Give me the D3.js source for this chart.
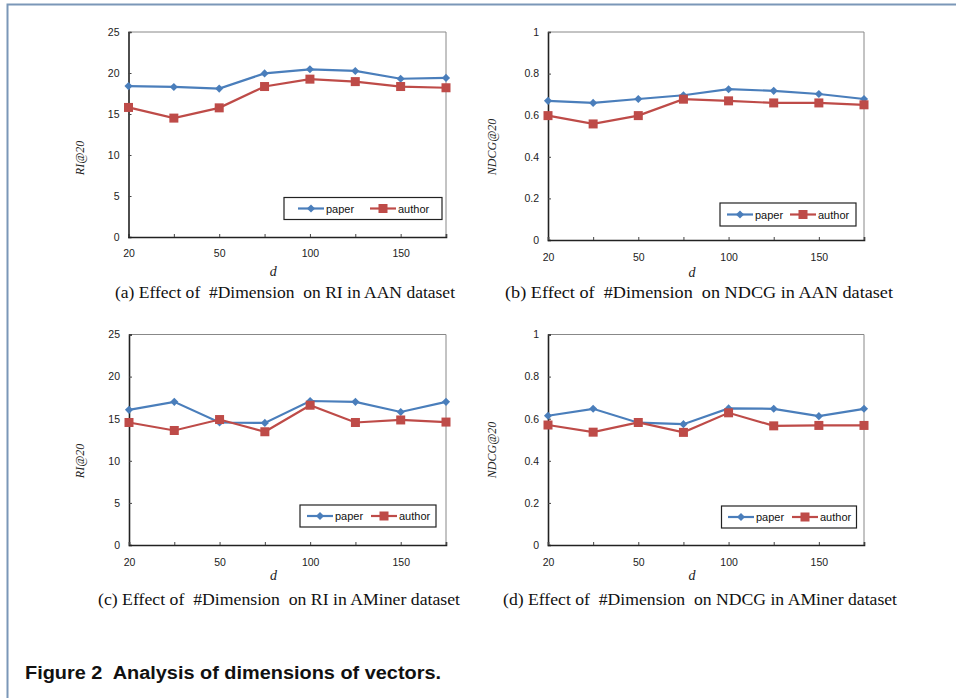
<!DOCTYPE html>
<html><head><meta charset="utf-8">
<script src="https://cdn.jsdelivr.net/npm/d3@7"></script>
<style>body{margin:0;background:#fff;}svg{display:block;}</style>
</head><body>
<svg id="c" width="956" height="698"></svg>
<script>
// ---- data ----
const dims = ["20", "30", "50", "75", "100", "125", "150", "175"];
const seriesNames = ["paper", "author"];

const riAANPaper   = [18.4, 18.3, 18.1, 19.95, 20.45, 20.25, 19.3, 19.4];
const riAANAuthor  = [15.8, 14.5, 15.75, 18.35, 19.25, 18.95, 18.35, 18.2];
const ndcgAANPaper  = [0.669, 0.659, 0.678, 0.696, 0.725, 0.717, 0.702, 0.678];
const ndcgAANAuthor = [0.598, 0.558, 0.598, 0.677, 0.669, 0.659, 0.659, 0.650];
const riAMPaper   = [16.05, 17.0, 14.55, 14.5, 17.1, 17.0, 15.8, 17.0];
const riAMAuthor  = [14.55, 13.6, 14.9, 13.45, 16.6, 14.55, 14.85, 14.6];
const ndcgAMPaper  = [0.614, 0.647, 0.581, 0.574, 0.649, 0.647, 0.612, 0.647];
const ndcgAMAuthor = [0.570, 0.536, 0.582, 0.535, 0.628, 0.566, 0.568, 0.568];

const riTicks = [0, 5, 10, 15, 20, 25];
const ndcgTicks = [0, 0.2, 0.4, 0.6, 0.8, 1];
const captions = [
  "(a) Effect of  #Dimension  on RI in AAN dataset",
  "(b) Effect of  #Dimension  on NDCG in AAN dataset",
  "(c) Effect of  #Dimension  on RI in AMiner dataset",
  "(d) Effect of  #Dimension  on NDCG in AMiner dataset"
];
const yLabels = ["RI@20", "NDCG@20"];
const figureCaption = "Figure 2  Analysis of dimensions of vectors.";

// ---- layout ----
const svg = d3.select("#c");
const colors = ["#4A7EBB", "#BE4B48"];

// outer frame
svg.append("path").attr("d", "M7.5,698 V4.5 H956")
  .attr("fill", "none").attr("stroke", "#7b97b8").attr("stroke-width", 2);

const ndcgFmt = d => d===0||d===1? String(d) : d3.format(".1f")(d);
const panels = [
  {x0:128.5, x1:446, y0:32, y1:237, ticks:riTicks, ymax:25, fmt:d3.format("d"), ylab:yLabels[0],
   data:[riAANPaper, riAANAuthor], cap:captions[0], capX:285, capW:340, capY:298, dY:276, xlY:257, ylX:80, ylY:158,
   leg:{x:284, y:197.5, w:158, h:22, l1:298, l2:370}},
  {x0:548, x1:864, y0:32, y1:240, ticks:ndcgTicks, ymax:1, fmt:ndcgFmt, ylab:yLabels[1],
   data:[ndcgAANPaper, ndcgAANAuthor], cap:captions[1], capX:699, capW:388, capY:298, dY:277, xlY:261, ylX:492, ylY:147,
   leg:{x:720, y:203, w:136, h:23, l1:727, l2:790}},
  {x0:129, x1:446, y0:334.5, y1:545, ticks:riTicks, ymax:25, fmt:d3.format("d"), ylab:yLabels[0],
   data:[riAMPaper, riAMAuthor], cap:captions[2], capX:279, capW:362, capY:605, dY:580, xlY:566, ylX:80, ylY:461,
   leg:{x:300, y:505, w:136, h:22, l1:307, l2:371}},
  {x0:548, x1:864, y0:334.5, y1:545, ticks:ndcgTicks, ymax:1, fmt:ndcgFmt, ylab:yLabels[1],
   data:[ndcgAMPaper, ndcgAMAuthor], cap:captions[3], capX:700, capW:394, capY:605, dY:580, xlY:566, ylX:492, ylY:450,
   leg:{x:721.5, y:506, w:135, h:22, l1:728, l2:792}}
];

const sansFont = "'Liberation Sans', Arial, sans-serif";
const serifFont = "'Liberation Serif', 'Times New Roman', serif";

function diamond(g, x, y, c) {
  g.append("path").attr("d", d3.symbol(d3.symbolDiamond2, 42)()).attr("transform", `translate(${x},${y})`).attr("fill", c);
}
function square(g, x, y, c) {
  g.append("rect").attr("x", x-4.5).attr("y", y-4.5).attr("width", 9).attr("height", 9).attr("fill", c);
}

panels.forEach(p => {
  const g = svg.append("g");
  const x = d3.scalePoint().domain(dims).range([p.x0, p.x1]);
  const y = d3.scaleLinear().domain([0, p.ymax]).range([p.y1, p.y0]);

  // plot border (top / right)
  g.append("path").attr("d", `M${p.x0},${p.y0} H${p.x1} V${p.y1}`)
    .attr("fill","none").attr("stroke","#888").attr("stroke-width",1);

  // y axis (inner ticks)
  const ya = g.append("g").attr("transform", `translate(${p.x0},0)`)
    .call(d3.axisLeft(y).tickValues(p.ticks).tickSize(-3).tickPadding(9).tickFormat(p.fmt));
  ya.select(".domain").attr("stroke","#222").attr("stroke-width",1.6);
  ya.selectAll(".tick line").attr("stroke","#444");
  ya.selectAll("text").attr("font-family", sansFont).attr("font-size", 10.5).attr("fill","#222");

  // x axis
  const xa = g.append("g").attr("transform", `translate(0,${p.y1})`)
    .call(d3.axisBottom(x).tickSize(-3).tickPadding(0).tickFormat((d,i) => i%2===0 ? d : ""));
  xa.select(".domain").attr("stroke","#222").attr("stroke-width",1.6);
  xa.selectAll(".tick line").attr("stroke","#444");
  xa.selectAll("text").attr("font-family", sansFont).attr("font-size", 10.5).attr("fill","#222")
    .attr("y", null).attr("dy", null)
    .attr("transform", `translate(0,${p.xlY - p.y1})`);

  // lines & markers
  p.data.forEach((vals, si) => {
    const line = d3.line().x((d,i) => x(dims[i])).y(d => y(d));
    g.append("path").datum(vals).attr("d", line).attr("fill","none")
      .attr("stroke", colors[si]).attr("stroke-width", 2.2);
  });
  p.data.forEach((vals, si) => {
    vals.forEach((v,i) => {
      if (si===0) diamond(g, x(dims[i]), y(v), colors[0]);
      else square(g, x(dims[i]), y(v), colors[1]);
    });
  });

  // legend
  const L = p.leg;
  const lg = g.append("g");
  lg.append("rect").attr("x", L.x).attr("y", L.y).attr("width", L.w).attr("height", L.h)
    .attr("fill","#fff").attr("stroke","#222").attr("stroke-width",1.2);
  const cy = L.y + L.h/2;
  [L.l1, L.l2].forEach((lx, si) => {
    lg.append("line").attr("x1", lx).attr("x2", lx+26).attr("y1", cy).attr("y2", cy)
      .attr("stroke", colors[si]).attr("stroke-width", 2.2);
    if (si===0) diamond(lg, lx+13, cy, colors[0]); else square(lg, lx+13, cy, colors[1]);
    lg.append("text").attr("x", lx+28).attr("y", cy+4).text(seriesNames[si])
      .attr("font-family", sansFont).attr("font-size", 11).attr("fill","#111");
  });

  // y label
  g.append("text").attr("transform", `translate(${p.ylX + 4},${p.ylY}) rotate(-90)`)
    .attr("text-anchor","middle").attr("font-family", serifFont).attr("font-style","italic")
    .attr("font-size", 12).attr("fill","#222").text(p.ylab);

  // x label
  g.append("text").attr("x", (p.x0+p.x1)/2 - 14).attr("y", p.dY)
    .attr("text-anchor","middle").attr("font-family", serifFont).attr("font-style","italic")
    .attr("font-size", 14).attr("fill","#222").text("d");

  // caption
  g.append("text").attr("x", p.capX).attr("y", p.capY)
    .attr("text-anchor","middle").attr("font-family", serifFont)
    .attr("font-size", 17).attr("fill","#111").style("white-space","pre")
    .attr("textLength", p.capW).attr("lengthAdjust","spacingAndGlyphs").text(p.cap);
});

svg.append("text").attr("x", 25).attr("y", 679).attr("font-family", sansFont)
  .attr("font-weight","bold").attr("font-size", 18).attr("fill","#111")
  .style("white-space","pre").attr("textLength", 416).attr("lengthAdjust","spacingAndGlyphs")
  .text(figureCaption);
</script>
</body></html>
